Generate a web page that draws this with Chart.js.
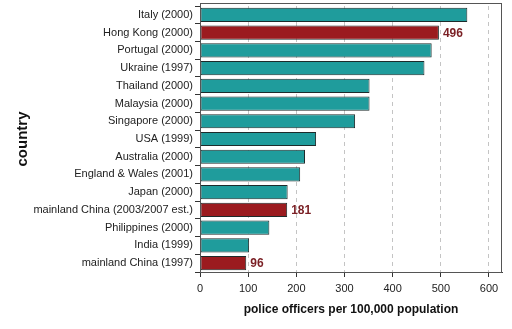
<!DOCTYPE html>
<html>
<head>
<meta charset="utf-8">
<script src="https://cdn.jsdelivr.net/npm/chart.js@4"></script>
<style>
  html, body { margin: 0; padding: 0; background: #fff; }
  #wrap { width: 512px; height: 329px; }
</style>
</head>
<body>
<div id="wrap"><canvas id="policeChart"></canvas></div>
<script>
const countries = [
  'Italy (2000)', 'Hong Kong (2000)', 'Portugal (2000)', 'Ukraine (1997)',
  'Thailand (2000)', 'Malaysia (2000)', 'Singapore (2000)', 'USA (1999)',
  'Australia (2000)', 'England & Wales (2001)', 'Japan (2000)',
  'mainland China (2003/2007 est.)', 'Philippines (2000)', 'India (1999)',
  'mainland China (1997)'
];
const officers = [555, 496, 481, 466, 352, 352, 322, 241, 218, 208, 182, 181, 144, 102, 96];
// red bars = Hong Kong and mainland China, with their value written next to them
const highlighted = [1, 11, 14];
const xTicks = [0, 100, 200, 300, 400, 500, 600];

const teal = '#1f9c9c';
const red = '#9b1b1f';

// frame round the plot area (top edge sits a little above the first bar slot)
const frame = {
  id: 'frame',
  afterDraw(chart) {
    const { ctx, chartArea: a } = chart;
    ctx.save();
    ctx.strokeStyle = '#555';
    ctx.lineWidth = 1;
    ctx.strokeRect(a.left + 0.5, a.top - 2.5, a.right - a.left - 1, a.bottom - a.top + 3);
    ctx.restore();
  }
};

// value labels at the end of the red bars
const valueLabels = {
  id: 'valueLabels',
  afterDatasetsDraw(chart) {
    const { ctx } = chart;
    const meta = chart.getDatasetMeta(0);
    ctx.save();
    ctx.font = 'bold 12px "Liberation Sans", Arial, sans-serif';
    ctx.fillStyle = '#7a1f24';
    ctx.textBaseline = 'middle';
    highlighted.forEach(i => {
      const bar = meta.data[i];
      ctx.fillText(officers[i], bar.x + 4, bar.y + 1);
    });
    ctx.restore();
  }
};

new Chart(document.getElementById('policeChart'), {
  type: 'bar',
  data: {
    labels: countries,
    datasets: [{
      label: 'police officers per 100,000 population',
      data: officers,
      backgroundColor: officers.map((v, i) => highlighted.includes(i) ? red : teal),
      borderColor: '#1d2b2b',
      borderWidth: 1,
      borderSkipped: false,
      barPercentage: 0.8,
      categoryPercentage: 1
    }]
  },
  options: {
    indexAxis: 'y',
    responsive: true,
    maintainAspectRatio: false,
    animation: false,
    layout: { padding: { top: 0, right: 10, left: 0, bottom: 12 } },
    plugins: { legend: { display: false }, tooltip: { enabled: false } },
    scales: {
      x: {
        type: 'linear',
        min: 0,
        max: 627,
        afterBuildTicks: s => { s.ticks = xTicks.map(v => ({ value: v })); },
        afterFit: s => { s.height = 45; },
        ticks: {
          color: '#222',
          padding: 5,
          maxRotation: 0,
          font: { family: '"Liberation Sans", Arial, sans-serif', size: 11 }
        },
        grid: {
          color: c => c.tick && c.tick.value === 0 ? 'rgba(0,0,0,0)' : '#c4c4c4',
          tickColor: '#333',
          tickLength: 5,
          lineWidth: 1
        },
        border: { display: true, color: '#444', dash: [4, 4] },
        title: {
          display: true,
          text: 'police officers per 100,000 population',
          color: '#111',
          padding: { top: 4, bottom: 0 },
          font: { family: '"Liberation Sans", Arial, sans-serif', size: 12, weight: 'bold' }
        }
      },
      y: {
        afterFit: s => { s.width = 200; s.paddingTop = 6; s.paddingBottom = 0; },
        ticks: {
          color: '#222',
          padding: 2,
          autoSkip: false,
          font: { family: '"Liberation Sans", Arial, sans-serif', size: 11 }
        },
        grid: {
          drawOnChartArea: false,
          tickColor: '#333',
          tickLength: 5
        },
        border: { display: true, color: '#444' },
        title: {
          display: true,
          text: 'country',
          color: '#111',
          padding: { top: 14, bottom: 0 },
          font: { family: '"Liberation Sans", Arial, sans-serif', size: 15, weight: 'bold' }
        }
      }
    }
  },
  plugins: [frame, valueLabels]
});
</script>
</body>
</html>
